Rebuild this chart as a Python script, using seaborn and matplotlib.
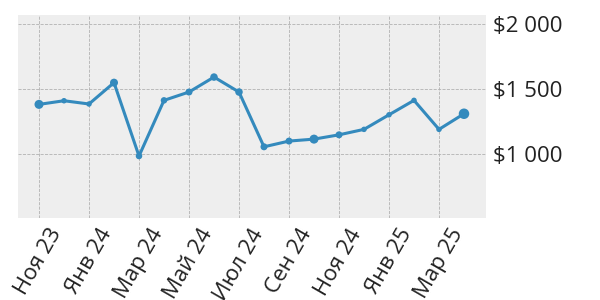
import matplotlib
matplotlib.use("Agg")
import matplotlib.pyplot as plt
import seaborn as sns
import pandas as pd
from matplotlib.ticker import FuncFormatter

months = ["Ноя 23", "Дек 23", "Янв 24", "Фев 24", "Мар 24", "Апр 24", "Май 24", "Июн 24",
          "Июл 24", "Авг 24", "Сен 24", "Окт 24", "Ноя 24", "Дек 24", "Янв 25", "Фев 25",
          "Мар 25", "Апр 25"]
prices = [1382, 1410, 1385, 1549, 985, 1413, 1477, 1592, 1477, 1056, 1100, 1115, 1148,
          1190, 1302, 1413, 1190, 1310]
marker_diam = [9, 5.5, 5.5, 8, 6.5, 6.5, 7, 7.5, 7.5, 7, 7, 9, 7, 5.5, 5.5, 5.5, 5.5, 10.5]
tick_every = 2

plt.style.use("bmh")
plt.rcParams["font.family"] = ["Open Sans", "DejaVu Sans"]
df = pd.DataFrame({"idx": range(len(months)), "price": prices,
                   "s": [(d * 0.72) ** 2 for d in marker_diam]})

fig = plt.figure(figsize=(6, 3), dpi=100)
ax = fig.add_axes([0.03, 0.273, 0.78, 0.677])
color = "#348ABD"
sns.lineplot(data=df, x="idx", y="price", ax=ax, color=color, linewidth=2.2)
ax.scatter(df["idx"], df["price"], s=df["s"], color=color, zorder=3, linewidths=0)

ax.set_facecolor("#eeeeee")
ax.grid(True, color="#b2b2b2", linestyle="--", linewidth=0.6)
for sp in ax.spines.values():
    sp.set_visible(False)
ax.set_xlim(-0.84, len(months) - 1 + 0.88)
ax.set_ylim(508, 2069)
ax.set_xticks(list(range(0, len(months), tick_every)))
ax.set_xticklabels(months[::tick_every], rotation=60, ha="center")
ax.set_yticks([1000, 1500, 2000])
ax.yaxis.set_major_formatter(FuncFormatter(lambda v, p: "$" + f"{int(v):,}".replace(",", " ")))
ax.yaxis.tick_right()
ax.tick_params(axis="both", length=0, labelsize=16, colors="#222222")
ax.tick_params(axis="y", pad=5)
ax.tick_params(axis="x", pad=5)
ax.set_xlabel("")
ax.set_ylabel("")
fig.savefig("out.png", dpi=100, facecolor="white")
